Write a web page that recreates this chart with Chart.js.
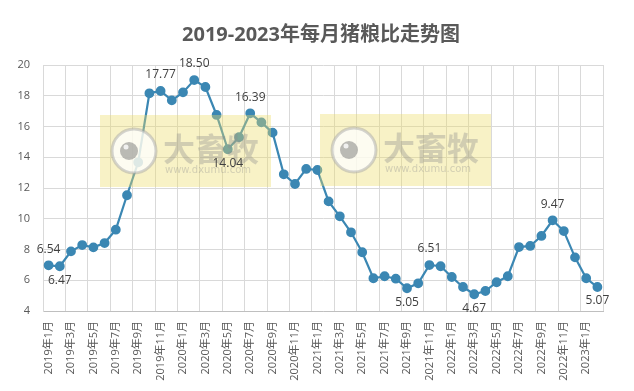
<!DOCTYPE html>
<html>
<head>
<meta charset="utf-8">
<script src="https://cdn.jsdelivr.net/npm/chart.js@4/dist/chart.umd.min.js"></script>
<style>
  html, body { margin: 0; padding: 0; background: #fff; }
  #wrap { width: 634px; height: 391px; position: relative; }
</style>
</head>
<body>
<div id="wrap"><canvas id="pigChart"></canvas></div>
<script>
// month labels, one per point
const months = [
  '2019年1月', '2019年2月', '2019年3月', '2019年4月', '2019年5月', '2019年6月',
  '2019年7月', '2019年8月', '2019年9月', '2019年10月', '2019年11月', '2019年12月',
  '2020年1月', '2020年2月', '2020年3月', '2020年4月', '2020年5月', '2020年6月',
  '2020年7月', '2020年8月', '2020年9月', '2020年10月', '2020年11月', '2020年12月',
  '2021年1月', '2021年2月', '2021年3月', '2021年4月', '2021年5月', '2021年6月',
  '2021年7月', '2021年8月', '2021年9月', '2021年10月', '2021年11月', '2021年12月',
  '2022年1月', '2022年2月', '2022年3月', '2022年4月', '2022年5月', '2022年6月',
  '2022年7月', '2022年8月', '2022年9月', '2022年10月', '2022年11月', '2022年12月',
  '2023年1月', '2023年2月'
];

// pig-grain ratio as plotted
const ratio = [
  6.97, 6.91, 7.88, 8.29, 8.14, 8.42, 9.29, 11.53, 13.67, 18.16, 18.31, 17.70,
  18.22, 19.02, 18.57, 16.75, 14.52, 15.30, 16.86, 16.27, 15.60, 12.89, 12.26, 13.24,
  13.17, 11.13, 10.16, 9.12, 7.82, 6.13, 6.26, 6.10, 5.48, 5.80, 6.99, 6.91,
  6.21, 5.56, 5.09, 5.30, 5.87, 6.26, 8.16, 8.23, 8.88, 9.90, 9.20, 7.49,
  6.13, 5.56
];

// annotated points
const noteIndex = [0, 1, 10, 13, 16, 18, 32, 34, 38, 45, 49];
const noteText = ['6.54', '6.47', '17.77', '18.50', '14.04', '16.39', '5.05', '6.51', '4.67', '9.47', '5.07'];
const noteSide = ['up', 'down', 'up', 'up', 'down', 'up', 'down', 'up', 'down', 'up', 'down'];

const yTicks = [4, 6, 8, 10, 12, 14, 16, 18, 20];
const chartTitle = '2019-2023年每月猪粮比走势图';

const FONT = '"Open Sans", "Noto Sans CJK SC", sans-serif';
const LINE = '#3b87b3';
const GRID = '#d9d9d9';

// title centred on the whole canvas, not the padded box
const titlePlugin = {
  id: 'pageTitle',
  afterDraw(chart) {
    const c = chart.ctx;
    c.save();
    c.font = 'bold 20px ' + FONT;
    c.fillStyle = '#595959';
    c.textAlign = 'center';
    c.textBaseline = 'middle';
    c.fillText(chartTitle, chart.width / 2 + 4, 35);
    c.restore();
  }
};

// semi-transparent site watermark drawn over the plot
const watermark = {
  id: 'watermark',
  afterDatasetsDraw(chart) {
    const c = chart.ctx;
    [[100, 115], [320, 114]].forEach(([x, y]) => {
      c.save();
      c.fillStyle = 'rgba(236,222,105,0.38)';
      c.fillRect(x, y, 171, 72);
      // round logo
      const cx = x + 34, cy = y + 36;
      c.beginPath();
      c.arc(cx, cy, 22, 0, Math.PI * 2);
      c.fillStyle = 'rgba(255,255,255,0.75)';
      c.fill();
      c.lineWidth = 3;
      c.strokeStyle = 'rgba(170,170,170,0.5)';
      c.stroke();
      c.beginPath();
      c.arc(cx - 5, cy, 9, 0, Math.PI * 2);
      c.fillStyle = 'rgba(120,120,120,0.5)';
      c.fill();
      c.beginPath();
      c.arc(cx - 8, cy - 4, 2.5, 0, Math.PI * 2);
      c.fillStyle = 'rgba(255,255,255,0.8)';
      c.fill();
      c.fillStyle = 'rgba(140,140,140,0.36)';
      c.textAlign = 'left';
      c.textBaseline = 'middle';
      c.font = 'bold 32px "Noto Sans CJK SC", sans-serif';
      c.fillText('大畜牧', x + 63, y + 34);
      c.font = '10px "DejaVu Sans", sans-serif';
      c.fillText('www.dxumu.com', x + 65, y + 55);
      c.restore();
    });
  }
};

// value notes next to selected points
const notes = {
  id: 'notes',
  afterDraw(chart) {
    const c = chart.ctx;
    const pts = chart.getDatasetMeta(0).data;
    c.save();
    c.font = '12px ' + FONT;
    c.fillStyle = '#404040';
    c.textAlign = 'center';
    c.textBaseline = 'middle';
    noteIndex.forEach((idx, k) => {
      const p = pts[idx];
      const dy = noteSide[k] === 'up' ? -16 : 14;
      c.fillText(noteText[k], p.x, p.y + dy);
    });
    c.restore();
  }
};

const ctx = document.getElementById('pigChart').getContext('2d');
new Chart(ctx, {
  type: 'line',
  data: {
    labels: months,
    datasets: [{
      data: ratio,
      borderColor: LINE,
      backgroundColor: LINE,
      borderWidth: 2.2,
      pointRadius: 3.8,
      pointBackgroundColor: LINE,
      pointBorderColor: LINE,
      tension: 0,
      fill: false
    }]
  },
  options: {
    responsive: true,
    maintainAspectRatio: false,
    animation: false,
    layout: { padding: { left: 0, right: 31, top: 65, bottom: 0 } },
    plugins: {
      legend: { display: false },
      tooltip: { enabled: false },
      title: { display: false }
    },
    scales: {
      x: {
        offset: true,
        grid: {
          offset: true,
          drawTicks: false,
          color: c => (c.index === undefined || c.index % 2 === 0) ? GRID : 'rgba(0,0,0,0)'
        },
        border: { color: '#bfbfbf' },
        ticks: {
          autoSkip: false,
          maxRotation: 90,
          minRotation: 90,
          padding: 10,
          color: '#595959',
          font: { family: FONT, size: 11 },
          callback: function(v, i) { return i % 2 === 0 ? months[i] : ''; }
        },
        afterFit: s => { s.height = 80; }
      },
      y: {
        min: 4,
        max: 20,
        afterBuildTicks: s => { s.ticks = yTicks.map(v => ({ value: v })); },
        grid: { color: GRID, drawTicks: false },
        border: { color: GRID },
        ticks: {
          padding: 13,
          color: '#595959',
          font: { family: FONT, size: 11 }
        },
        afterFit: s => { s.width = 43; }
      }
    }
  },
  plugins: [watermark, notes, titlePlugin]
});
</script>
</body>
</html>
